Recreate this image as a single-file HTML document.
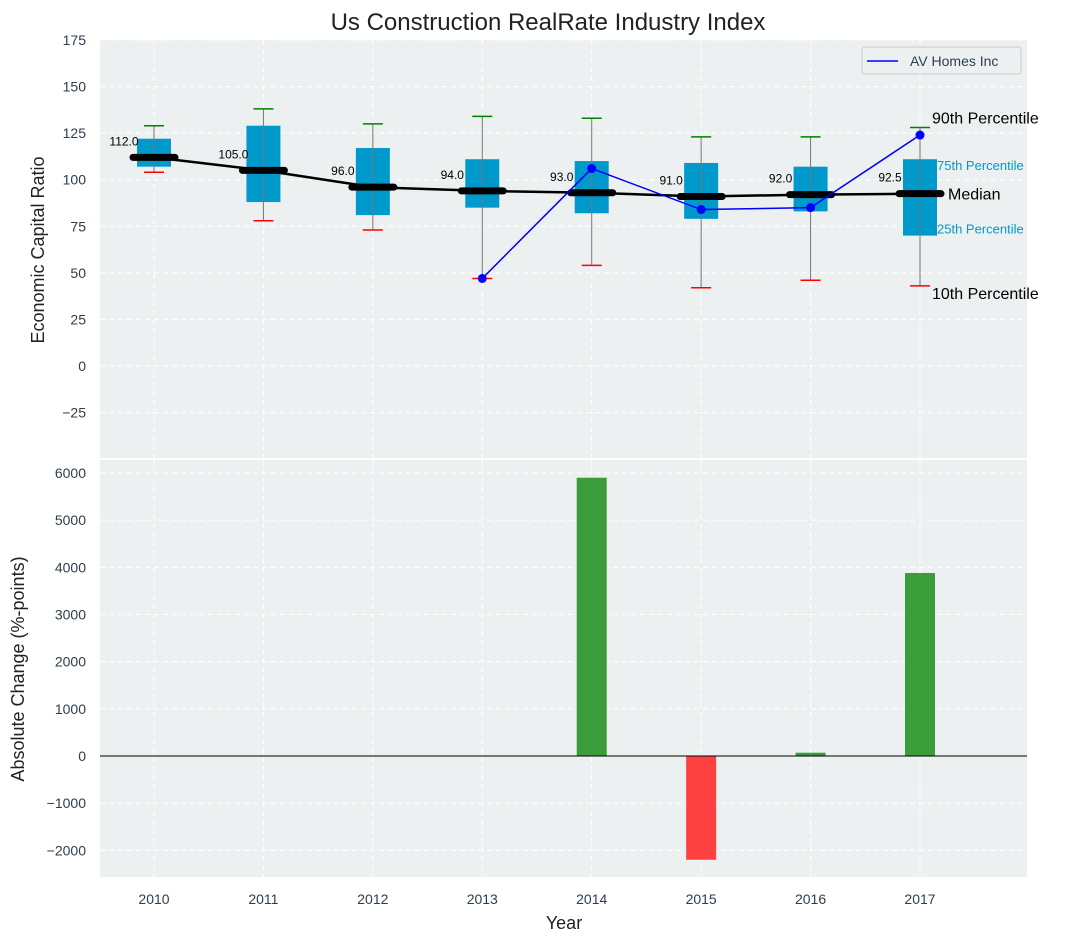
<!DOCTYPE html>
<html><head><meta charset="utf-8"><style>
body{margin:0;background:#fff;}
svg{font-family:"Liberation Sans","DejaVu Sans",sans-serif;}
</style></head><body>
<svg id="c" width="1067" height="942" xmlns="http://www.w3.org/2000/svg"></svg>
<script>
const years=[2010,2011,2012,2013,2014,2015,2016,2017];
const p10=[104,78,73,47,54,42,46,43];
const p90=[129,138,130,134,133,123,123,128];
const q1=[107,88,81,85,82,79,83,70];
const q3=[122,129,117,111,110,109,107,111];
const med=[112,105,96,94,93,91,92,92.5];
const avYears=[2013,2014,2015,2016,2017];
const avVals=[47,106,84,85,124];
const chg=[0,0,0,0,5900,-2200,70,3880];
const topTicks=[-25,0,25,50,75,100,125,150,175];
const botTicks=[-2000,-1000,0,1000,2000,3000,4000,5000,6000];

const NS="http://www.w3.org/2000/svg";
const svg=document.getElementById('c');
function el(t,a,p){const e=document.createElementNS(NS,t);for(const k in a)e.setAttribute(k,a[k]);(p||svg).appendChild(e);return e;}
const L=100,R=1027;
const x=v=>154+(v-2010)*(920-154)/7;
const yT=v=>366-v*(366-40)/175;
const yB=v=>756-v*(756-473)/6000;
function txt(s,a,name){const e=el('text',a);e.textContent=s;return e;}

let bg=el('rect',{x:L,y:40,width:R-L,height:418,fill:'#ecf0f0'});

bg=el('rect',{x:L,y:460,width:R-L,height:417,fill:'#ecf0f0'});


years.forEach(yr=>{
 el('line',{x1:x(yr),x2:x(yr),y1:40,y2:458,stroke:'#fff','stroke-dasharray':'5,4','stroke-width':1});
 el('line',{x1:x(yr),x2:x(yr),y1:460,y2:877,stroke:'#fff','stroke-dasharray':'5,4','stroke-width':1});
 txt(String(yr),{x:x(yr),y:904,'font-size':14,fill:'#2d3e50','text-anchor':'middle'},'x-tick-label');
});
topTicks.forEach(t=>{
 el('line',{x1:L,x2:R,y1:yT(t),y2:yT(t),stroke:'#fff','stroke-dasharray':'5,4'});
 txt(t<0?'\u2212'+(-t):String(t),{x:86,y:yT(t)+5,'font-size':14,fill:'#2d3e50','text-anchor':'end'},'top-y-tick-label');
});
botTicks.forEach(t=>{
 el('line',{x1:L,x2:R,y1:yB(t),y2:yB(t),stroke:'#fff','stroke-dasharray':'5,4'});
 txt(t<0?'\u2212'+(-t):String(t),{x:86,y:yB(t)+5,'font-size':14,fill:'#2d3e50','text-anchor':'end'},'bottom-y-tick-label');
});

years.forEach((yr,i)=>{
 const cx=x(yr);
 let b=el('rect',{x:cx-17,y:yT(q3[i]),width:34,height:yT(q1[i])-yT(q3[i]),fill:'#0099cc'});
 
 el('line',{x1:cx,x2:cx,y1:yT(p90[i]),y2:yT(p10[i]),stroke:'#777','stroke-width':1});
 el('line',{x1:cx-10,x2:cx+10,y1:yT(p90[i]),y2:yT(p90[i]),stroke:'green','stroke-width':1.5});
 el('line',{x1:cx-10,x2:cx+10,y1:yT(p10[i]),y2:yT(p10[i]),stroke:'red','stroke-width':1.5});
});
let pts=years.map((yr,i)=>x(yr)+','+yT(med[i])).join(' ');
let ml=el('polyline',{points:pts,fill:'none',stroke:'#000','stroke-width':2.5});

years.forEach((yr,i)=>{
 const cx=x(yr);
 let m=el('line',{x1:cx-21,x2:cx+21,y1:yT(med[i]),y2:yT(med[i]),stroke:'#000','stroke-width':7,'stroke-linecap':'round'});
 
 txt(med[i].toFixed(1),{x:cx-30,y:yT(med[i])-12,'font-size':12,fill:'#000','text-anchor':'middle'},'median-value-label');
});
pts=avYears.map((yr,i)=>x(yr)+','+yT(avVals[i])).join(' ');
let av=el('polyline',{points:pts,fill:'none',stroke:'blue','stroke-width':1.5});

avYears.forEach((yr,i)=>{let c=el('circle',{cx:x(yr),cy:yT(avVals[i]),r:4.5,fill:'blue'});
 });
const lx=x(2017);
txt('90th Percentile',{x:lx+12,y:yT(p90[7])-4,'font-size':16,fill:'#000'},'p90-annotation');
txt('75th Percentile',{x:lx+17,y:yT(q3[7])+11,'font-size':13,fill:'#0099cc'},'p75-annotation');
txt('Median',{x:lx+28,y:yT(med[7])+6,'font-size':16,fill:'#000'},'median-annotation');
txt('25th Percentile',{x:lx+17,y:yT(q1[7])-2,'font-size':13,fill:'#0099cc'},'p25-annotation');
txt('10th Percentile',{x:lx+12,y:yT(p10[7])+13,'font-size':16,fill:'#000'},'p10-annotation');
let lg=el('rect',{x:862,y:47,width:159,height:27,fill:'#ecf0f0',stroke:'#ccc',rx:3});

el('line',{x1:867,x2:898,y1:61,y2:61,stroke:'blue','stroke-width':1.5});
txt('AV Homes Inc',{x:910,y:66,'font-size':14,fill:'#2d3e50'},'legend-entry');

years.forEach((yr,i)=>{
 if(chg[i]===0)return;
 const y0=yB(0),y1=yB(chg[i]);
 let r=el('rect',{x:x(yr)-15,y:Math.min(y0,y1),width:30,height:Math.abs(y1-y0),fill:chg[i]>0?'#3a9d3a':'#ff4040'});
 
});
el('line',{x1:L,x2:R,y1:yB(0),y2:yB(0),stroke:'#000','stroke-width':1});

txt('Us Construction RealRate Industry Index',{x:548,y:30,'font-size':24,fill:'#222','text-anchor':'middle'},'chart-title');
txt('Economic Capital Ratio',{x:0,y:0,'font-size':18,fill:'#222','text-anchor':'middle',transform:'translate(44,250) rotate(-90)'},'top-y-axis-title');
txt('Absolute Change (%-points)',{x:0,y:0,'font-size':18,fill:'#222','text-anchor':'middle',transform:'translate(24,669) rotate(-90)'},'bottom-y-axis-title');
txt('Year',{x:564,y:929,'font-size':18,fill:'#222','text-anchor':'middle'},'x-axis-title');
</script>
</body></html>
